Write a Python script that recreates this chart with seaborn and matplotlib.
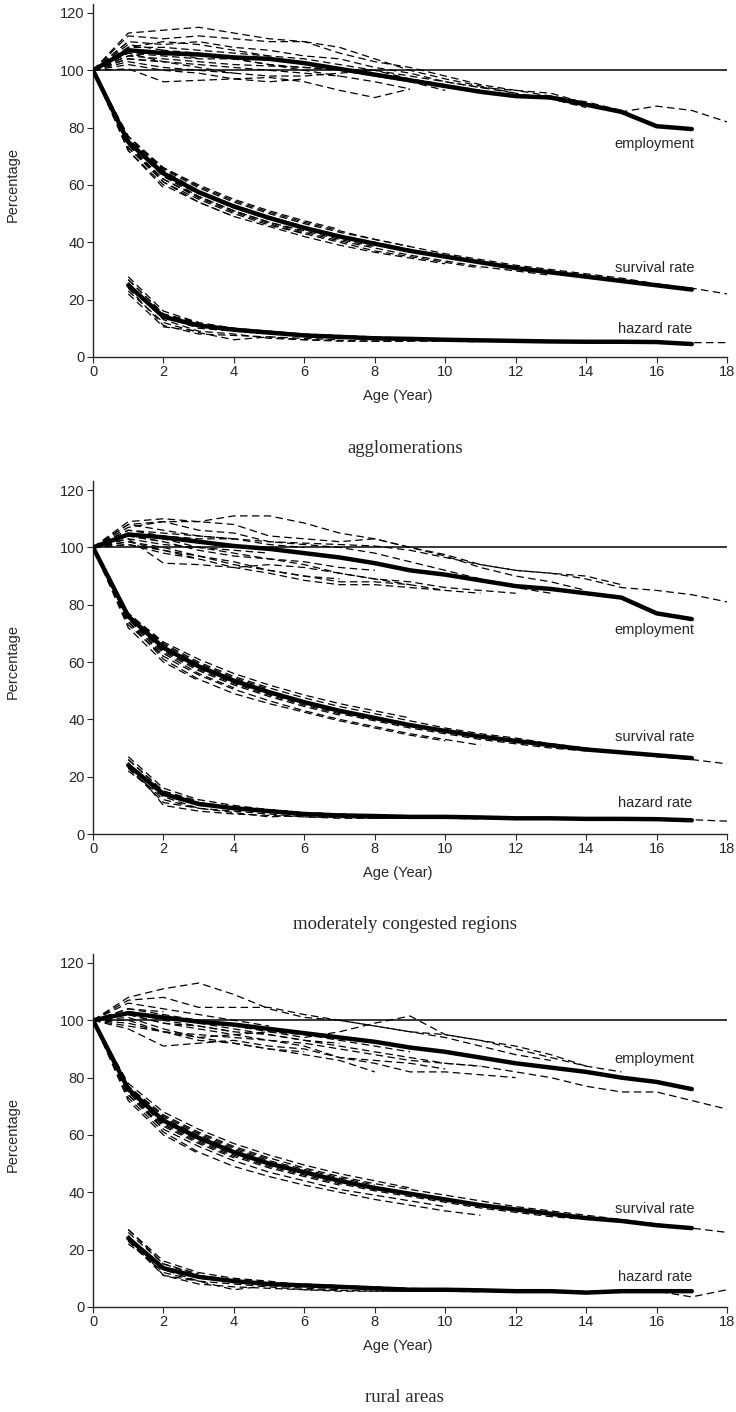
import matplotlib
matplotlib.use("Agg")
import matplotlib.pyplot as plt
import seaborn as sns
import pandas as pd

# ---- agglomerations ----
agg_emp_mean = [100, 107, 106, 105.5, 104.5, 104, 102.5, 100.5, 98.5, 96.5, 94.5, 92.5, 91, 90.5, 88, 85.5, 80.5, 79.5]
agg_emp_cohorts = [
    [100, 105, 104, 103, 102, 101.5, 101, 100.5, 100, 98, 96, 94, 93, 92, 88.5, 85.5, 87.5, 86, 82],
    [100, 113, 114, 115, 113, 111, 110, 106, 103, 101, 98, 95, 93, 91, 89, 86],
    [100, 112, 111, 112, 111, 110, 110, 108, 104, 100, 97, 94.5, 92, 90, 87],
    [100, 110, 109, 110, 108, 107, 105, 104, 101, 99, 96, 94, 92],
    [100, 108, 108, 107, 106, 105, 104, 102, 100, 97, 95, 93],
    [100, 106, 105, 104, 104, 102, 101, 100, 98, 96, 93],
    [100, 104, 103, 102, 101, 100, 99, 98, 96, 93.5],
    [100, 100.5, 96, 96.5, 97, 97.5, 96, 93, 90.5, 93.5],
    [100, 103, 101, 100, 99, 98, 98, 99, 100],
    [100, 105, 107, 106, 104, 102, 100, 98],
    [100, 102, 100, 99, 97, 96, 97],
    [100, 108, 110, 109, 107, 105],
    [100, 106, 103, 101, 99],
    [100, 109, 107, 104],
    [100, 104, 103],
    [100, 110],
]
agg_surv_mean = [100, 75, 64, 57.5, 52.5, 48.5, 45, 42, 39.5, 37, 35, 33, 31, 29.5, 28, 26.5, 25, 23.5]
agg_surv_cohorts = [
    [100, 76, 66, 59.5, 54.5, 50.5, 47, 44, 41, 38.5, 36, 34, 32, 30.5, 29, 27.5, 25.5, 24, 22],
    [100, 77, 65, 58, 53, 49, 45.5, 42.5, 40, 37.5, 35, 33, 31.5, 30, 28.5, 27],
    [100, 73, 62, 56, 51, 47, 43.5, 40.5, 38, 35.5, 33.5, 31.5, 30, 28.5],
    [100, 74, 61, 55, 50, 46, 43, 40, 37, 35, 33, 31],
    [100, 72, 60, 54, 49, 45.5, 42, 39, 36.5, 34.5, 32.5],
    [100, 76, 65.5, 59, 54, 50, 46.5, 43.5, 41, 38.5],
    [100, 75, 63, 56, 51, 47, 44, 41, 38.5],
    [100, 77, 66, 60, 55, 51, 47.5, 44.5],
    [100, 74, 62, 55.5, 50.5, 46.5, 43],
    [100, 76, 64, 57, 52, 48],
    [100, 73, 61, 54, 49],
    [100, 75, 63, 57],
    [100, 72, 59],
]
agg_haz_mean = [25, 14, 11, 9.5, 8.5, 7.5, 7, 6.5, 6.3, 6, 5.8, 5.6, 5.4, 5.3, 5.3, 5.2, 4.5]
agg_haz_cohorts = [
    [27, 15, 11.5, 10, 9, 8, 7.5, 7, 6.5, 6.2, 6, 5.8, 5.6, 5.5, 5.4, 5.2, 5, 5],
    [28, 16, 12, 10, 8.5, 7.5, 7, 6.5, 6, 6, 5.7, 5.5, 5.3, 5.2],
    [24, 11, 8, 7.5, 7, 6, 5.8, 5.5, 5.5, 5.5, 5.3],
    [26, 13, 9, 8, 6.5, 6, 5.5, 5.5, 5.5],
    [23, 12, 8.5, 6, 7, 6.5, 6],
    [25, 14, 10, 9, 8],
    [27, 15, 12],
    [22, 10.5, 9],
]

# ---- moderately congested regions ----
mod_emp_mean = [100, 104.5, 103.5, 102, 100.5, 99.5, 98, 96.5, 94.5, 92, 90.5, 88.5, 86.5, 85.5, 84, 82.5, 77, 75]
mod_emp_cohorts = [
    [100, 106, 104, 103, 103, 102, 101.5, 101, 100.5, 99, 96.5, 94, 92, 91, 89, 86, 85, 83.5, 81],
    [100, 108, 109, 109, 111, 111, 108.5, 105, 103, 100, 97.5, 94, 92, 91, 90, 87],
    [100, 109, 110, 109, 108, 104, 103, 102, 103, 100, 97, 93, 90, 88, 85],
    [100, 107, 109, 106, 105, 102, 101, 100, 98, 95, 92, 89, 86, 84],
    [100, 103, 94.5, 94, 93, 94, 93, 91, 89, 88, 86, 85, 84],
    [100, 102, 99, 97, 95, 92, 90, 88, 88, 87, 85, 84],
    [100, 101, 99, 96, 93, 91, 88.5, 87, 87, 86, 85],
    [100, 105, 103, 100, 98, 96, 94, 91, 89, 87],
    [100, 104, 102, 99, 97, 96, 95, 93, 92],
    [100, 102, 100, 97, 94, 92, 90, 89],
    [100, 106, 105, 104, 103, 101, 100],
    [100, 103, 101, 100, 99, 98],
    [100, 108, 106, 104, 103],
    [100, 101, 98, 96],
    [100, 104, 102],
]
mod_surv_mean = [100, 76, 65, 58.5, 53.5, 49.5, 46, 43, 40.5, 38, 36, 34, 32.5, 31, 29.5, 28.5, 27.5, 26.5]
mod_surv_cohorts = [
    [100, 77, 66.5, 60, 55, 51, 47.5, 44.5, 42, 39.5, 37, 35, 33.5, 31.5, 30, 28.5, 27, 26, 24.5],
    [100, 75, 64, 57.5, 52.5, 48.5, 45, 42, 39.5, 37, 35, 33, 31.5, 30, 29],
    [100, 73, 62, 55.5, 50.5, 46.5, 43, 40, 37.5, 35, 33, 31],
    [100, 74, 61, 54, 49, 45.5, 42.5, 39.5, 37, 34.5, 32.5],
    [100, 77, 67, 61, 56, 52, 48.5, 45.5, 43, 40.5],
    [100, 76, 65, 58, 53, 49, 45.5, 42.5, 40],
    [100, 75, 63.5, 57, 52, 48, 44.5, 41.5],
    [100, 72, 60, 53.5],
    [100, 77, 66, 59.5, 54.5, 50.5],
    [100, 74, 63, 56, 51],
    [100, 76, 64.5, 58],
    [100, 75, 62],
]
mod_haz_mean = [24, 14, 10.5, 9, 8, 7, 6.5, 6.3, 6, 6, 5.8, 5.5, 5.5, 5.3, 5.3, 5.2, 4.8]
mod_haz_cohorts = [
    [26, 15, 11, 9.5, 8.5, 7.5, 7, 6.5, 6.2, 6, 5.8, 5.6, 5.5, 5.4, 5.3, 5.2, 5, 4.5],
    [27, 16, 12, 10, 8.5, 7.5, 7, 6.5, 6.2, 6, 5.7, 5.5, 5.3, 5.2],
    [23, 12, 9, 8, 7, 6, 5.8, 5.5, 5.5, 5.5, 5.3],
    [25, 10, 8, 7, 6.5, 6, 5.5, 5.5, 5.5],
    [22, 13, 9, 7.5, 6, 6.5, 6],
    [24, 14, 10, 9, 8],
    [26, 15, 11.5],
    [23, 11, 9],
]

# ---- rural areas ----
rur_emp_mean = [100, 102.5, 101, 99.5, 98.5, 97, 95.5, 94, 92.5, 90.5, 89, 87, 85, 83.5, 82, 80, 78.5, 76]
rur_emp_cohorts = [
    [100, 98, 96, 95, 94, 93, 92, 90, 88, 86, 85, 84, 82, 80, 77, 75, 75, 72, 69],
    [100, 108, 111, 113, 109, 104, 101, 100, 98, 96, 95, 93, 90, 87, 84, 82],
    [100, 99, 96, 94, 95, 96, 94, 96, 99, 101.5, 95, 93, 91, 88, 84],
    [100, 107, 108, 104.5, 104.5, 104.5, 102, 100, 98, 96, 94, 91, 88, 86],
    [100, 97, 91, 92, 93, 91, 90, 87, 85, 82, 82, 81, 80],
    [100, 103, 101, 99, 97, 95, 93, 91, 89, 87, 85, 84],
    [100, 102, 99, 97, 95, 93, 91, 87, 86, 85, 83],
    [100, 104, 102, 100, 98, 96, 95, 93, 91, 89],
    [100, 101, 97, 94, 92, 90, 88, 86, 82],
    [100, 103, 100, 98, 96, 95, 93, 92],
    [100, 100, 96, 93, 92, 90, 89],
    [100, 106, 104, 102, 100, 98],
    [100, 102, 99, 98, 96],
    [100, 103, 101, 99],
    [100, 104, 103],
]
rur_surv_mean = [100, 76, 65, 59, 54, 50, 47, 44, 41.5, 39.5, 37.5, 35.5, 34, 32.5, 31, 30, 28.5, 27.5]
rur_surv_cohorts = [
    [100, 77, 67, 61, 56, 52, 48.5, 45.5, 43, 41, 39, 37, 35, 33.5, 32, 30.5, 29, 27.5, 26],
    [100, 75, 64, 58, 53, 49, 46, 43, 40.5, 38.5, 36.5, 34.5, 33, 31.5, 30.5],
    [100, 73, 61, 54, 49, 45.5, 42.5, 40, 37.5, 35.5, 33.5, 32],
    [100, 74, 62, 56, 51, 47, 44, 41, 39, 37, 35],
    [100, 78, 68, 62, 57, 53, 49.5, 46.5, 44, 41.5],
    [100, 76, 66, 60, 55, 51, 48, 45, 42.5],
    [100, 75, 63.5, 57.5, 52.5, 48.5, 45.5, 42.5],
    [100, 72, 60, 53.5],
    [100, 77, 66.5, 60.5, 55.5, 51.5],
    [100, 74, 63, 57, 52],
    [100, 76, 65, 59],
    [100, 75, 62],
]
rur_haz_mean = [24, 13.5, 10.5, 9, 8, 7.5, 7, 6.5, 6, 6, 5.8, 5.5, 5.5, 5, 5.5, 5.5, 5.5]
rur_haz_cohorts = [
    [26, 15, 11, 9.5, 8.5, 8, 7.5, 7, 6.5, 6.2, 6, 5.8, 5.6, 5.5, 5, 5.5, 3.5, 6],
    [27, 16, 12, 10, 9, 7.5, 7, 6.5, 6.2, 6, 5.7, 5.5, 5.3, 5.2],
    [23, 12, 9, 8, 7, 6, 5.8, 5.5, 5.5, 5.5, 5.3],
    [25, 11, 8, 7, 6.5, 6, 5.5, 5.5, 5.5],
    [22, 13, 9, 6, 7.5, 6.5, 6],
    [24, 14, 10, 9, 8],
    [27, 15, 11.5],
    [23, 11, 9],
]

panel_titles = ["agglomerations", "moderately congested regions", "rural areas"]
# y position (data units) of the curve names: employment, survival rate, hazard rate
label_y = [[74.3, 31, 9.8], [71.2, 33.8, 10.8], [86.5, 34.2, 10.5]]


def cohorts_frame(cohorts, start):
    rows = []
    for k, vals in enumerate(cohorts):
        for i, v in enumerate(vals):
            rows.append({"line": k, "age": start + i, "pct": v})
    return pd.DataFrame(rows)


def mean_frame(vals, start):
    return pd.DataFrame({"age": range(start, start + len(vals)), "pct": vals})


def draw_panel(ax, series, ylab):
    ax.axhline(100, color="black", lw=1.1, zorder=1)
    for mean_vals, cohorts, start in series:
        # single cohorts, dashed
        sns.lineplot(data=cohorts_frame(cohorts, start), x="age", y="pct", units="line",
                     estimator=None, color="black", lw=0.9, linestyle=(0, (6, 3.5)),
                     ax=ax, zorder=2)
        # average, thick solid
        sns.lineplot(data=mean_frame(mean_vals, start), x="age", y="pct",
                     color="black", lw=3.2, ax=ax, zorder=3)
    for txt, y in zip(["employment", "survival rate", "hazard rate"], ylab):
        ax.text(15.95, y, txt, ha="center", va="center", fontsize=10.5)
    ax.set_xlim(0, 18)
    ax.set_ylim(0, 123)
    ax.set_xticks(range(0, 19, 2))
    ax.set_yticks(range(0, 121, 20))
    ax.tick_params(direction="out", length=4, width=0.8, labelsize=10.5, pad=2)
    ax.set_xlabel("Age (Year)", fontsize=10.5)
    ax.set_ylabel("Percentage", fontsize=10.5)
    ax.xaxis.set_label_coords(0.48, -0.09)
    ax.yaxis.set_label_coords(-0.115, 0.49)
    for s in ["left", "bottom"]:
        ax.spines[s].set_linewidth(1.0)
    sns.despine(ax=ax)


sns.set_style("ticks")
plt.rcParams["font.family"] = ["Liberation Sans", "DejaVu Sans"]

fig = plt.figure(figsize=(7.36, 14.12), dpi=100)
bottoms = [0.7472, 0.4093, 0.0744]
panels = [
    [(agg_emp_mean, agg_emp_cohorts, 0), (agg_surv_mean, agg_surv_cohorts, 0), (agg_haz_mean, agg_haz_cohorts, 1)],
    [(mod_emp_mean, mod_emp_cohorts, 0), (mod_surv_mean, mod_surv_cohorts, 0), (mod_haz_mean, mod_haz_cohorts, 1)],
    [(rur_emp_mean, rur_emp_cohorts, 0), (rur_surv_mean, rur_surv_cohorts, 0), (rur_haz_mean, rur_haz_cohorts, 1)],
]
title_y = [0.6827, 0.345, 0.01]

for b, series, ylab, title, ty in zip(bottoms, panels, label_y, panel_titles, title_y):
    ax = fig.add_axes([0.1264, b, 0.8614, 0.2497])
    draw_panel(ax, series, ylab)
    fig.text(0.55, ty, title, ha="center", va="center", fontsize=13.5,
             family=["Liberation Serif", "DejaVu Serif"])

fig.savefig("out.png", dpi=100)
